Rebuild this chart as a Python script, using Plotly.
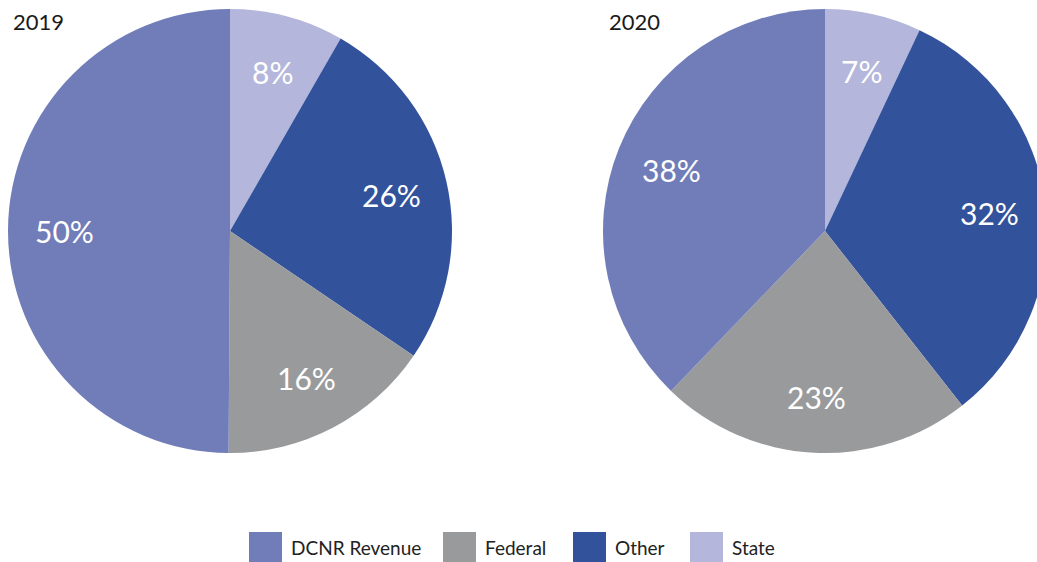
import math
import plotly.graph_objects as go

years = ["2019", "2020"]
categories = ["DCNR Revenue", "Federal", "Other", "State"]
values_2019 = [49.9, 15.6, 26.2, 8.3]
values_2020 = [37.8, 22.8, 32.4, 7.0]
colors = ["#717db8", "#999a9c", "#32529b", "#b4b6db"]

W, H = 1047, 562
FONT = "Source Sans Pro, Lato, Open Sans, sans-serif"

def px_x(x):
    return x / W

def px_y(y):
    return 1 - y / H

fig = go.Figure()
# pie boxes in pixels: (left, right), shared top/bottom
domains = [(8, 452), (603, 1047)]
TOP, BOT = 9, 453
annotations = []
# draw slices clockwise from 12 o'clock: State, Other, Federal, DCNR Revenue
order = [3, 2, 1, 0]
for yr, vals, (x0, x1) in zip(years, [values_2019, values_2020], domains):
    labs = [categories[i] for i in order]
    vs = [vals[i] for i in order]
    cols = [colors[i] for i in order]
    fig.add_trace(go.Pie(
        labels=labs, values=vs, name=yr,
        marker=dict(colors=cols, line=dict(width=0)),
        sort=False, direction="clockwise", rotation=0,
        textinfo="none",
        hoverinfo="label+percent",
        domain=dict(x=[px_x(x0), px_x(x1)], y=[px_y(BOT), px_y(TOP)]),
        showlegend=False,
    ))
    # percentage labels placed at the slice mid-angle
    total = sum(vs)
    cx, cy = (x0 + x1) / 2, (TOP + BOT) / 2
    R = (x1 - x0) / 2
    rr = 0.745 * R
    cum = 0.0
    for v in vs:
        mid = (cum + v / 2) / total * 2 * math.pi
        cum += v
        tx = cx + rr * math.sin(mid)
        ty = cy - rr * math.cos(mid)
        annotations.append(dict(text=f"{round(v / total * 100)}%", x=px_x(tx), y=px_y(ty + 1),
                                xref="paper", yref="paper", xanchor="center", yanchor="middle",
                                showarrow=False,
                                font=dict(family=FONT, size=30, color="white")))

for yr, xpx in zip(years, [11, 607]):
    annotations.append(dict(text=yr, x=px_x(xpx), y=px_y(22), xref="paper", yref="paper",
                            xanchor="left", yanchor="middle", showarrow=False,
                            font=dict(family=FONT, size=22, color="#1a1a1a")))

# legend
shapes = []
leg_sq = [249, 443, 573, 690]
for cat, col, sx in zip(categories, colors, leg_sq):
    shapes.append(dict(type="rect", xref="paper", yref="paper",
                       x0=px_x(sx), x1=px_x(sx + 33), y0=px_y(562), y1=px_y(532),
                       fillcolor=col, line=dict(width=0)))
    annotations.append(dict(text=cat, x=px_x(sx + 40), y=px_y(547), xref="paper", yref="paper",
                            xanchor="left", yanchor="middle", showarrow=False,
                            font=dict(family=FONT, size=19, color="#222222")))

fig.update_layout(
    width=W, height=H, margin=dict(l=0, r=0, t=0, b=0),
    paper_bgcolor="white", plot_bgcolor="white",
    annotations=annotations, shapes=shapes, showlegend=False,
)

fig.write_html("out.html", config={"displayModeBar": False},
               post_script="document.body.style.margin='0';document.body.style.overflow='hidden';")
